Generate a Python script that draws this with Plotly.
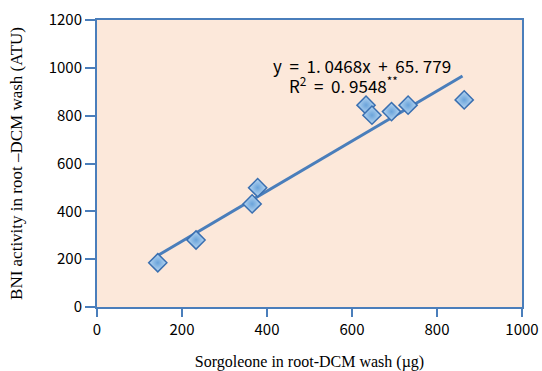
import plotly.graph_objects as go

sorgoleone = [143, 233, 365, 378, 633, 647, 693, 732, 864]
bni_activity = [185, 280, 431, 499, 844, 802, 817, 844, 866]
slope = 1.0468
intercept = 65.779
fit_x = [143, 860]
x_ticks = [0, 200, 400, 600, 800, 1000]
y_ticks = [0, 200, 400, 600, 800, 1000, 1200]

axis_col = "#4a7ebb"
tick_font = dict(family="Noto Sans CJK JP", size=15, color="black")
NB = "\u00a0"
G = NB * 2

fig = go.Figure()
fig.add_trace(go.Scatter(
    x=fit_x, y=[slope * v + intercept for v in fit_x], mode="lines",
    line=dict(color="#4a7ebb", width=3), showlegend=False))
fig.add_trace(go.Scatter(
    x=sorgoleone, y=bni_activity, mode="markers",
    marker=dict(symbol="diamond", size=14, color="#b9d8f3",
                gradient=dict(type="radial", color="#6aa3da"),
                line=dict(color="#3a6fb0", width=1.5)),
    showlegend=False))

eq1 = f"y{G}={G}1.{NB}0468x{G}+{G}65.{NB}779"
eq2 = f"R<sup>2</sup>{G}={G}0.{NB}9548<sup>**</sup>"
fig.add_annotation(
    x=0.41, y=0.84, xref="paper", yref="paper", xanchor="left", yanchor="middle",
    text=eq1, showarrow=False,
    font=dict(family="Noto Sans CJK JP", size=17, color="black"))
fig.add_annotation(
    x=0.447, y=0.775, xref="paper", yref="paper", xanchor="left", yanchor="middle",
    text=eq2, showarrow=False,
    font=dict(family="Noto Sans CJK JP", size=17, color="black"))

fig.update_layout(
    width=542, height=371,
    margin=dict(l=97, r=20, t=20, b=64),
    paper_bgcolor="white", plot_bgcolor="#fce8da",
    xaxis=dict(range=[0, 1000], tickvals=x_ticks, showgrid=False, zeroline=False,
               automargin=False,
               showline=True, linecolor=axis_col, linewidth=2, mirror=True,
               ticks="outside", ticklen=8, tickcolor=axis_col, tickwidth=2,
               tickfont=tick_font,
               title=dict(text="Sorgoleone in root-DCM wash (µg)", standoff=22,
                          font=dict(family="Liberation Serif", size=16, color="black"))),
    yaxis=dict(range=[0, 1200], tickvals=y_ticks, showgrid=False, zeroline=False,
               automargin=False,
               showline=True, linecolor=axis_col, linewidth=2, mirror=True,
               ticks="outside", ticklen=10, tickcolor=axis_col, tickwidth=2,
               tickfont=tick_font,
               title=dict(text="BNI activity in root \u2013DCM wash (ATU)", standoff=22,
                          font=dict(family="Liberation Serif", size=17, color="black"))),
)

fig.write_html("out.html")
